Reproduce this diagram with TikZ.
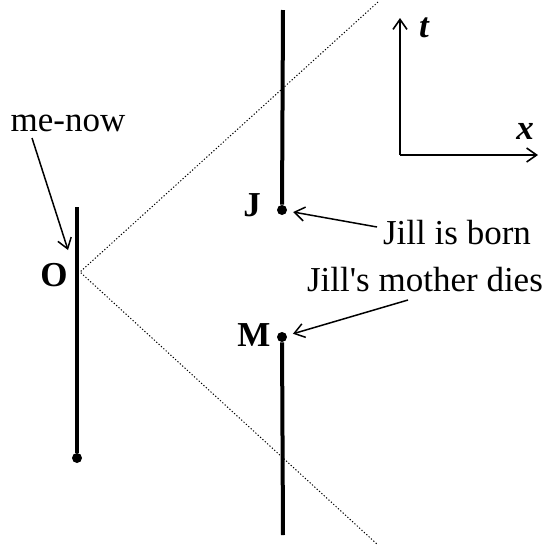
\documentclass[tikz,border=0pt]{standalone}
\usepackage{fontspec}
\setmainfont{Liberation Serif}
\usetikzlibrary{arrows.meta,positioning}
\tikzset{
  event/.style={circle, fill=black, inner sep=0pt, minimum size=5pt},
  evlabel/.style={font=\fontsize{17.5}{20}\selectfont\bfseries, inner sep=1pt},
  axlabel/.style={font=\fontsize{17.5}{20}\selectfont\bfseries\itshape, inner sep=1pt},
  note/.style={font=\fontsize{17.5}{20}\selectfont, inner sep=1pt},
  wline/.style={line width=2pt},
  cone/.style={line width=0.5pt, dash pattern=on 0.6pt off 1pt},
  axis/.style={-{Straight Barb[length=5pt,width=7pt]}, line width=0.8pt},
  pointer/.style={-{Straight Barb[length=5pt,width=7pt]}, line width=0.75pt, shorten >=3pt}
}
\begin{document}
\begin{tikzpicture}[x=0.5pt,y=-0.5pt]
\useasboundingbox (0,0) rectangle (543,547);
% world lines and events
\coordinate (metop) at (77,207);
\node[event] (mebot) at (77,458) {};
\coordinate (O) at (80,272);
\node[evlabel] (olab) at (54,275) {O};
\coordinate (jtop) at (283,10);
\node[event] (jill) at (282,210) {};
\node[evlabel] (jlab) at (252,205) {J};
\node[event] (moth) at (282,337) {};
\coordinate (mbot) at (283,535);
\node[evlabel] (mlab) at (254,335) {M};

\draw[wline] (metop) -- (mebot);
\draw[wline] (jtop) -- (jill);
\draw[wline] (moth) -- (mbot);

% light cone
\coordinate (cup) at (378,2);
\coordinate (cdown) at (378,545);
\draw[cone] (cup) -- (O) -- (cdown);

% axes
\coordinate (orig) at (400,155);
\coordinate (tend) at (400,18);
\coordinate (xend) at (538,155);
\draw[axis] (orig) -- (tend);
\draw[axis] (orig) -- (xend);
\node[axlabel] (tlab) at (424,28) {t};
\node[axlabel] (xlab) at (525,131) {x};

% notes
\node[note] (menow) at (68,123) {me-now};
\node[note] (born) at (457,233) {Jill is born};
\node[note] (dies) at (425,280) {Jill\textquotesingle s mother dies};
\coordinate (mnA) at (32,138);
\coordinate (mnB) at (68,250);
\coordinate (bnA) at (377,227);
\coordinate (dsA) at (408,300);
\draw[pointer, shorten >=0pt] (mnA) -- (mnB);
\draw[pointer] (bnA) -- (jill);
\draw[pointer] (dsA) -- (moth);
\end{tikzpicture}
\end{document}
